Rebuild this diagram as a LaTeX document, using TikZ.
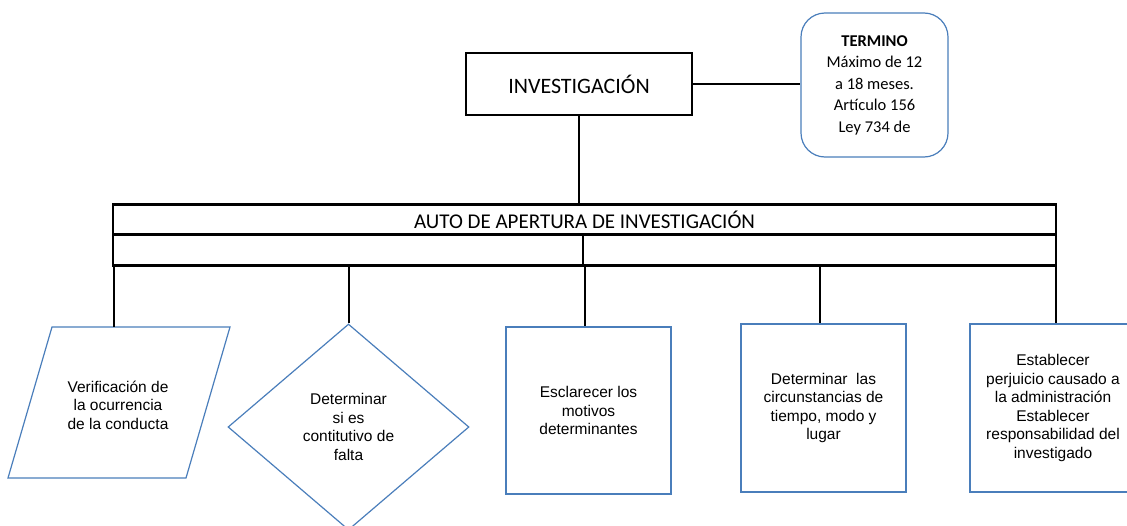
\documentclass[tikz,border=0pt]{standalone}
\usepackage{fontspec}
\setmainfont{Liberation Sans}
\newfontfamily\calibfont{Carlito}
\usetikzlibrary{shapes.geometric}
\definecolor{offblue}{RGB}{74,126,187}
\tikzset{
  thickbox/.style={draw=black, line width=2.8pt, inner sep=0pt},
  wire/.style={draw=black, line width=2pt},
  bluebox/.style={draw=offblue, line width=1.2pt, fill=white, inner sep=0pt, align=center,
     font=\fontsize{15.5}{18.5}\selectfont},
}
\begin{document}
\begin{tikzpicture}[x=1pt,y=-1pt]
\useasboundingbox (0,0) rectangle (1127,525);
\clip (0,0) rectangle (1127,525);
\fill[white] (0,0) rectangle (1127,525);

% top boxes
\node[thickbox, minimum width=226pt, minimum height=62pt, font=\calibfont\fontsize{22}{26}\selectfont] (inv) at (579,84) {INVESTIGACIÓN};
\node[draw=offblue, line width=1.2pt, rounded corners=24pt, minimum width=147pt, minimum height=144pt, inner sep=0pt, align=center,
      font=\calibfont\fontsize{16.5}{21.5}\selectfont] (term) at (874.5,85)
      {\textbf{TERMINO}\\Máximo de 12\\a 18 meses.\\Artículo 156\\Ley 734 de};
\draw[wire] (inv.east) -- (inv.east -| term.west);

% auto box
\node[thickbox, minimum width=943pt, minimum height=30pt, font=\calibfont\fontsize{21}{25}\selectfont] (autoTop) at (584.5,219.5) {AUTO DE APERTURA DE INVESTIGACIÓN};
\node[thickbox, minimum width=943pt, minimum height=31pt] (autoBot) at (584.5,250) {};
\draw[wire] (inv.south) -- (inv.south |- autoTop.north);
\draw[wire] ([xshift=-1.5pt]autoBot.north) -- ([xshift=-1.5pt]autoBot.south);

% parallelogram
\coordinate (p1) at (52,327);
\coordinate (p2) at (230,327);
\coordinate (p3) at (186,478);
\coordinate (p4) at (8,478);
\coordinate (parTop) at (114,327);
\draw[draw=offblue, line width=1.2pt] (p1) -- (p2) -- (p3) -- (p4) -- cycle;
\node[align=center, inner sep=0pt, font=\fontsize{15.5}{18.5}\selectfont] (par) at (118,405)
  {Verificación de\\la ocurrencia\\de la conducta};

% diamond
\node[bluebox, shape=diamond, minimum width=241pt, minimum height=206pt] (dia) at (348.5,427)
  {Determinar\\si es\\contitutivo de\\falta};

% boxes
\node[bluebox, minimum width=165pt, minimum height=167pt] (esc) at (588.5,410.5)
  {Esclarecer los\\motivos\\determinantes};
\node[bluebox, minimum width=165pt, minimum height=168pt] (det) at (823.5,408)
  {Determinar\ \ las\\circunstancias de\\tiempo, modo y\\lugar};
\node[bluebox, minimum width=166pt, minimum height=168pt] (est) at (1053,408)
  {Establecer\\perjuicio causado a\\la administración\\Establecer\\responsabilidad del\\investigado};

% drops
\draw[wire] (parTop |- autoBot.south) -- (parTop);
\draw[wire] (dia.north |- autoBot.south) -- (dia.north);
\draw[wire] ([xshift=-3.5pt]esc.north |- autoBot.south) -- ([xshift=-3.5pt]esc.north);
\draw[wire] ([xshift=-3.5pt]det.north |- autoBot.south) -- ([xshift=-3.5pt]det.north);
\draw[wire] ([xshift=3pt]est.north |- autoBot.south) -- ([xshift=3pt]est.north);
\end{tikzpicture}
\end{document}
